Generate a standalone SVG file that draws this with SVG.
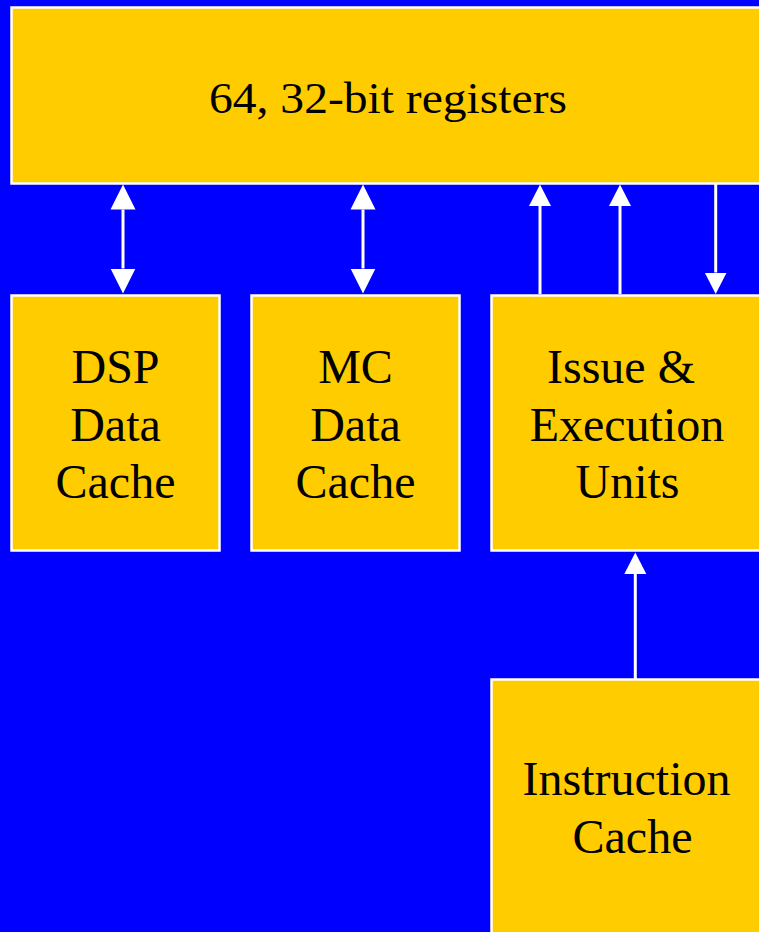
<svg xmlns="http://www.w3.org/2000/svg" width="759" height="932" viewBox="0 0 759 932">
  <style>
    .box { fill: #FFCC00; stroke: #FFFFFF; stroke-width: 2.5; }
    .label { font-family: "Liberation Serif", "Times New Roman", serif; font-size: 48px; fill: #000000; text-anchor: middle; }
    .title { font-size: 44px; }
    .wire { stroke: #FFFFFF; stroke-width: 3; fill: none; }
    .big { marker-start: url(#headBig); marker-end: url(#headBig); }
    .up { marker-end: url(#headSmall); }
  </style>
  <defs>
    <marker id="headBig" markerUnits="userSpaceOnUse" markerWidth="26" markerHeight="26" viewBox="0 -13 26 26" refX="0" refY="0" orient="auto-start-reverse">
      <path d="M0,-12.5 L25,0 L0,12.5 Z" fill="#FFFFFF"/>
    </marker>
    <marker id="headSmall" markerUnits="userSpaceOnUse" markerWidth="23" markerHeight="23" viewBox="0 -11.5 23 23" refX="0" refY="0" orient="auto">
      <path d="M0,-11 L21.5,0 L0,11 Z" fill="#FFFFFF"/>
    </marker>
  </defs>

  <rect x="0" y="0" width="759" height="932" fill="#0000FF"/>

  <g id="registers">
    <rect class="box" x="11.5" y="7.5" width="800" height="176"/>
    <text class="label title" x="388" y="113" textLength="358" lengthAdjust="spacingAndGlyphs">64, 32-bit registers</text>
  </g>

  <g id="dsp-cache">
    <rect class="box" x="11.5" y="295.5" width="208" height="255"/>
    <text class="label" x="115.5" y="383">DSP</text>
    <text class="label" x="115.5" y="440.5">Data</text>
    <text class="label" x="115.5" y="497.5">Cache</text>
  </g>

  <g id="mc-cache">
    <rect class="box" x="251.5" y="295.5" width="208" height="255"/>
    <text class="label" x="355.5" y="383">MC</text>
    <text class="label" x="355.5" y="440.5">Data</text>
    <text class="label" x="355.5" y="497.5">Cache</text>
  </g>

  <g id="issue-units">
    <rect class="box" x="491.5" y="295.5" width="320" height="255"/>
    <text class="label" x="621" y="383">Issue &amp;</text>
    <text class="label" x="627" y="440.5">Execution</text>
    <text class="label" x="627.5" y="497.5">Units</text>
  </g>

  <g id="instruction-cache">
    <rect class="box" x="491.5" y="679.5" width="320" height="300"/>
    <text class="label" x="626.5" y="795">Instruction</text>
    <text class="label" x="632.5" y="853">Cache</text>
  </g>

  <g id="connectors">
    <line class="wire big" x1="123" y1="209.5" x2="123" y2="268.5"/>
    <line class="wire big" x1="363" y1="209.5" x2="363" y2="268.5"/>
    <line class="wire up" x1="540" y1="294" x2="540" y2="206"/>
    <line class="wire up" x1="620" y1="294" x2="620" y2="206"/>
    <line class="wire up" x1="715.7" y1="184" x2="715.7" y2="272.5"/>
    <line class="wire up" x1="635.3" y1="679" x2="635.3" y2="574"/>
  </g>
</svg>
